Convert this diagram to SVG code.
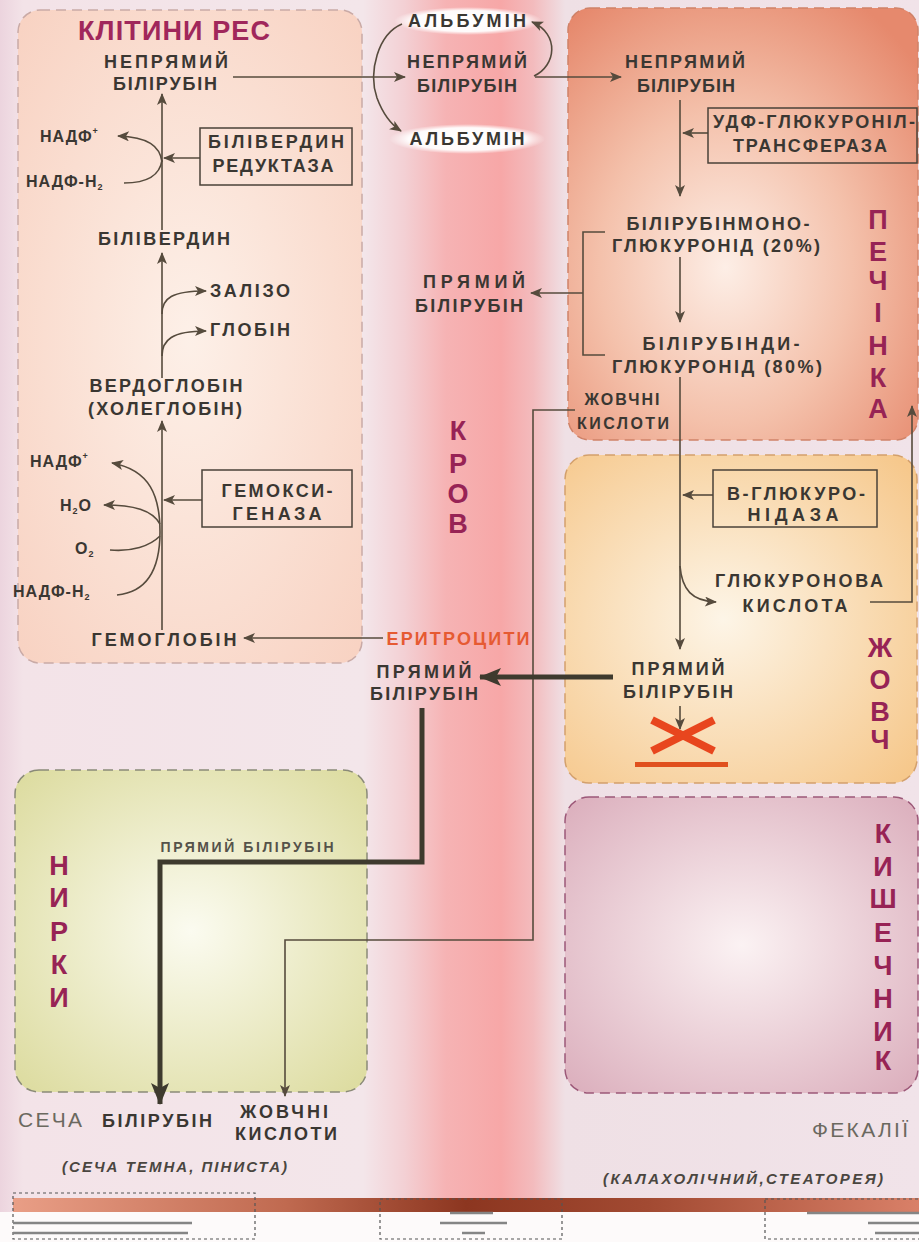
<svg xmlns="http://www.w3.org/2000/svg" width="919" height="1242" viewBox="0 0 919 1242">
<defs>
<style>
.m{font-family:"Liberation Sans",Arial,sans-serif;font-weight:bold;font-size:18px;fill:#3a3732;text-anchor:middle}
.s{font-family:"Liberation Sans",Arial,sans-serif;font-weight:bold;font-size:16px;fill:#3a3732;letter-spacing:1px}
.big{font-family:"Liberation Sans",Arial,sans-serif;font-weight:bold;font-size:27px;fill:#972355;text-anchor:middle}
.reg{font-family:"Liberation Sans",Arial,sans-serif;font-size:21px;fill:#6b695f}
.it{font-family:"Liberation Sans",Arial,sans-serif;font-weight:bold;font-style:italic;font-size:15px;fill:#4a4640}
.ln{fill:none;stroke:#564b3d;stroke-width:1.6}
.arr{marker-end:url(#ah)}
.thick{fill:none;stroke:#3e3a2e;stroke-width:5;marker-end:url(#ahT)}
.box{fill:none;stroke:#4a4238;stroke-width:1.5}
.dbox{fill:none;stroke:#555;stroke-width:1.2;stroke-dasharray:3 3}
.gl{stroke:#858585;stroke-width:2.5}
</style>
<marker id="ah" viewBox="0 0 12 10" refX="11" refY="5" markerWidth="13" markerHeight="10" orient="auto" markerUnits="userSpaceOnUse">
<path d="M0,0 L12,5 L0,10 L3,5 z" fill="#564b3d"/>
</marker>
<marker id="ahT" viewBox="0 0 22 18" refX="21" refY="9" markerWidth="22" markerHeight="18" orient="auto" markerUnits="userSpaceOnUse">
<path d="M0,0 L22,9 L0,18 L5,9 z" fill="#3e3a2e"/>
</marker>
<linearGradient id="bg" x1="0" y1="0" x2="919" y2="0" gradientUnits="userSpaceOnUse">
<stop offset="0" stop-color="#ecd4de"/>
<stop offset="0.025" stop-color="#f3e3e8"/>
<stop offset="0.395" stop-color="#f3e6ea"/>
<stop offset="0.44" stop-color="#f3d0d4"/>
<stop offset="0.485" stop-color="#f6b3b4"/>
<stop offset="0.545" stop-color="#f7a7a7"/>
<stop offset="0.58" stop-color="#f3bbbd"/>
<stop offset="0.615" stop-color="#efe0e5"/>
<stop offset="1" stop-color="#f1e3e9"/>
</linearGradient>
<linearGradient id="bar" x1="13" y1="0" x2="919" y2="0" gradientUnits="userSpaceOnUse">
<stop offset="0" stop-color="#e99e86"/>
<stop offset="0.3" stop-color="#c06a50"/>
<stop offset="0.5" stop-color="#8c3620"/>
<stop offset="0.7" stop-color="#a24a32"/>
<stop offset="1" stop-color="#d98068"/>
</linearGradient>
<radialGradient id="gRes" cx="0.5" cy="0.5" r="0.7">
<stop offset="0" stop-color="#fdf0e8"/>
<stop offset="1" stop-color="#f8d2c2"/>
</radialGradient>
<radialGradient id="gLiv" cx="0.45" cy="0.6" r="0.72">
<stop offset="0" stop-color="#fdeee6"/>
<stop offset="0.5" stop-color="#f4c1ab"/>
<stop offset="1" stop-color="#e6896d"/>
</radialGradient>
<radialGradient id="gBil" cx="0.45" cy="0.5" r="0.7">
<stop offset="0" stop-color="#fdf5e7"/>
<stop offset="1" stop-color="#f6c88c"/>
</radialGradient>
<radialGradient id="gInt" cx="0.5" cy="0.5" r="0.7">
<stop offset="0" stop-color="#fbf2f3"/>
<stop offset="1" stop-color="#dbaebc"/>
</radialGradient>
<radialGradient id="gKid" cx="0.5" cy="0.5" r="0.7">
<stop offset="0" stop-color="#fbfbf0"/>
<stop offset="1" stop-color="#dcdb9e"/>
</radialGradient>
<radialGradient id="gWh" cx="0.5" cy="0.5" r="0.5">
<stop offset="0" stop-color="#fff" stop-opacity="1"/>
<stop offset="0.75" stop-color="#fff" stop-opacity="0.95"/>
<stop offset="1" stop-color="#fff" stop-opacity="0"/>
</radialGradient>
</defs>

<rect x="0" y="0" width="919" height="1242" fill="url(#bg)"/>

<g id="panel-res"><rect x="18" y="10" width="344" height="653" rx="22" fill="url(#gRes)" stroke="#c9aaa6" stroke-width="1.5" stroke-dasharray="10 6"/></g>
<g id="panel-liver"><rect x="568" y="8" width="350" height="432" rx="22" fill="url(#gLiv)" stroke="#cf8268" stroke-width="1.5" stroke-dasharray="10 6"/></g>
<g id="panel-bile"><rect x="565" y="455" width="352" height="328" rx="24" fill="url(#gBil)" stroke="#d3a06c" stroke-width="1.5" stroke-dasharray="10 6"/></g>
<g id="panel-intestine"><rect x="565" y="797" width="353" height="296" rx="24" fill="url(#gInt)" stroke="#9c5878" stroke-width="1.5" stroke-dasharray="10 6"/></g>
<g id="panel-kidney"><rect x="15" y="770" width="352" height="322" rx="24" fill="url(#gKid)" stroke="#8a8a78" stroke-width="1.5" stroke-dasharray="10 6"/></g>

<g id="bottom-strip">
<rect x="0" y="1212" width="919" height="30" fill="#fdfafa"/>
<rect x="13" y="1198" width="906" height="14" fill="url(#bar)"/>
<rect class="dbox" x="13" y="1193" width="242" height="46"/>
<rect class="dbox" x="380" y="1199" width="182" height="40"/>
<rect class="dbox" x="765" y="1199" width="160" height="40"/>
<line class="gl" x1="13" y1="1223" x2="192" y2="1223"/>
<line class="gl" x1="13" y1="1233" x2="188" y2="1233"/>
<line class="gl" x1="450" y1="1213" x2="493" y2="1213"/>
<line class="gl" x1="440" y1="1223" x2="507" y2="1223"/>
<line class="gl" x1="462" y1="1233" x2="485" y2="1233"/>
<line class="gl" x1="807" y1="1213" x2="919" y2="1213"/>
<line class="gl" x1="868" y1="1223" x2="919" y2="1223"/>
<line class="gl" x1="875" y1="1233" x2="919" y2="1233"/>
</g>

<g id="albumin-bg">
<ellipse cx="468" cy="21" rx="74" ry="14" fill="url(#gWh)"/>
<ellipse cx="467" cy="139" rx="78" ry="15" fill="url(#gWh)"/>
</g>

<g id="connectors">
<path class="ln arr" d="M233 77 H405"/>
<path class="ln arr" d="M162 230 V94"/>
<path class="ln arr" d="M162 162 C160 146 148 137 118 136"/>
<path class="ln" d="M124 183 C148 183 160 175 162 160"/>
<path class="ln arr" d="M200 158 H164"/>
<path class="ln arr" d="M162 378 V253"/>
<path class="ln arr" d="M162 314 C162 298 172 291 206 291"/>
<path class="ln arr" d="M162 356 C162 340 172 331 206 331"/>
<path class="ln arr" d="M162 630 V421"/>
<path class="ln arr" d="M117 595 C148 592 160 568 160 532 C160 496 150 470 112 463"/>
<path class="ln arr" d="M160 524 C152 510 134 505 104 505"/>
<path class="ln" d="M110 550 C132 552 150 546 160 536"/>
<path class="ln arr" d="M202 500 H164"/>
<path class="ln arr" d="M383 638 H244"/>
<path class="ln arr" d="M402 24 C378 34 368 72 377 98 C383 114 390 124 401 131"/>
<path class="ln arr" d="M534 76 C556 66 560 34 532 22"/>
<path class="ln arr" d="M535 77 H621"/>
<path class="ln arr" d="M680 100 V196"/>
<path class="ln arr" d="M708 133 H683"/>
<path class="ln arr" d="M680 257 V322"/>
<path class="ln arr" d="M680 377 V649"/>
<path class="ln" d="M605 232 H583 V355 H605"/>
<path class="ln arr" d="M583 293 H531"/>
<path class="ln arr" d="M575 410 H533 V940 H285 V1096"/>
<path class="ln arr" d="M713 495 H683"/>
<path class="ln arr" d="M680 566 C682 590 692 601 716 602"/>
<path class="ln arr" d="M870 602 H912 V406"/>
<path class="ln arr" d="M680 706 V729"/>
<path class="thick" d="M613 677 H480"/>
<path class="thick" d="M422 708 V862 H160 V1104"/>
</g>

<g id="res-title"><text class="m" x="174" y="40" style="fill:#a0275b;font-size:27px" textLength="192" lengthAdjust="spacing">КЛІТИНИ РЕС</text></g>
<g id="res-indirect-bilirubin"><text class="m" x="166" y="68" textLength="124" lengthAdjust="spacing">НЕПРЯМИЙ</text><text class="m" x="165" y="90" textLength="104" lengthAdjust="spacing">БІЛІРУБІН</text></g>
<g id="nadp1"><text class="s" x="40" y="142">НАДФ<tspan dy="-8" font-size="9" letter-spacing="0">+</tspan></text></g>
<g id="nadph1"><text class="s" x="26" y="187">НАДФ-Н<tspan dy="3" font-size="9" letter-spacing="0">2</tspan></text></g>
<g id="biliverdin-reductase"><rect class="box" x="200" y="128" width="152" height="57"/><text class="m" x="276" y="148" textLength="136" lengthAdjust="spacing">БІЛІВЕРДИН</text><text class="m" x="273" y="172" textLength="121" lengthAdjust="spacing">РЕДУКТАЗА</text></g>
<g id="biliverdin"><text class="m" x="164" y="245" textLength="132" lengthAdjust="spacing">БІЛІВЕРДИН</text></g>
<g id="iron"><text class="m" x="250" y="297" textLength="80" lengthAdjust="spacing">ЗАЛІЗО</text></g>
<g id="globin"><text class="m" x="250" y="336" textLength="80" lengthAdjust="spacing">ГЛОБІН</text></g>
<g id="verdoglobin"><text class="m" x="166" y="392" textLength="153" lengthAdjust="spacing">ВЕРДОГЛОБІН</text><text class="m" x="165" y="415" textLength="154" lengthAdjust="spacing">(ХОЛЕГЛОБІН)</text></g>
<g id="nadp2"><text class="s" x="30" y="467">НАДФ<tspan dy="-8" font-size="9" letter-spacing="0">+</tspan></text></g>
<g id="h2o"><text class="s" x="60" y="511" letter-spacing="1">H<tspan dy="3" font-size="9">2</tspan><tspan dy="-3">O</tspan></text></g>
<g id="o2"><text class="s" x="75" y="554" letter-spacing="1">O<tspan dy="3" font-size="9">2</tspan></text></g>
<g id="nadph2"><text class="s" x="13" y="597">НАДФ-Н<tspan dy="3" font-size="9" letter-spacing="0">2</tspan></text></g>
<g id="hemoxygenase"><rect class="box" x="202" y="470" width="150" height="57"/><text class="m" x="277" y="497" textLength="111" lengthAdjust="spacing">ГЕМОКСИ-</text><text class="m" x="277" y="520" textLength="89" lengthAdjust="spacing">ГЕНАЗА</text></g>
<g id="hemoglobin"><text class="m" x="164" y="646" textLength="145" lengthAdjust="spacing">ГЕМОГЛОБІН</text></g>

<g id="albumin-top"><text class="m" x="467" y="27" textLength="118" lengthAdjust="spacing">АЛЬБУМІН</text></g>
<g id="blood-indirect-bilirubin"><text class="m" x="467" y="68" textLength="120" lengthAdjust="spacing">НЕПРЯМИЙ</text><text class="m" x="467" y="92" textLength="100" lengthAdjust="spacing">БІЛІРУБІН</text></g>
<g id="albumin-bottom"><text class="m" x="467" y="145" textLength="115" lengthAdjust="spacing">АЛЬБУМІН</text></g>
<g id="blood-direct-bilirubin"><text class="m" x="474" y="288" textLength="102" lengthAdjust="spacing">ПРЯМИЙ</text><text class="m" x="469" y="312" textLength="108" lengthAdjust="spacing">БІЛІРУБІН</text></g>
<g id="blood-label"><text class="big" x="458" y="440">К</text><text class="big" x="458" y="473">Р</text><text class="big" x="458" y="503">О</text><text class="big" x="458" y="533">В</text></g>
<g id="erythrocytes"><text class="m" x="458" y="645" style="fill:#e65a32" textLength="143" lengthAdjust="spacing">ЕРИТРОЦИТИ</text></g>
<g id="blood-direct-bilirubin-2"><text class="m" x="424" y="678" textLength="95" lengthAdjust="spacing">ПРЯМИЙ</text><text class="m" x="424" y="700" textLength="108" lengthAdjust="spacing">БІЛІРУБІН</text></g>

<g id="liver-indirect-bilirubin"><text class="m" x="685" y="68" textLength="120" lengthAdjust="spacing">НЕПРЯМИЙ</text><text class="m" x="686" y="92" textLength="98" lengthAdjust="spacing">БІЛІРУБІН</text></g>
<g id="udp-glucuronyltransferase"><rect class="box" x="708" y="108" width="209" height="55"/><text class="m" x="814" y="128" textLength="202" lengthAdjust="spacing">УДФ-ГЛЮКУРОНІЛ-</text><text class="m" x="810" y="152" textLength="154" lengthAdjust="spacing">ТРАНСФЕРАЗА</text></g>
<g id="monoglucuronide"><text class="m" x="718" y="230" textLength="183" lengthAdjust="spacing">БІЛІРУБІНМОНО-</text><text class="m" x="716" y="252" textLength="208" lengthAdjust="spacing">ГЛЮКУРОНІД (20%)</text></g>
<g id="diglucuronide"><text class="m" x="721" y="350" textLength="157" lengthAdjust="spacing">БІЛІРУБІНДИ-</text><text class="m" x="717" y="373" textLength="210" lengthAdjust="spacing">ГЛЮКУРОНІД (80%)</text></g>
<g id="liver-bile-acids"><text class="m" x="622" y="405" style="font-size:16px" textLength="75" lengthAdjust="spacing">ЖОВЧНІ</text><text class="m" x="623" y="429" style="font-size:16px" textLength="92" lengthAdjust="spacing">КИСЛОТИ</text></g>
<g id="liver-label"><text class="big" x="878" y="229">П</text><text class="big" x="878" y="261">Е</text><text class="big" x="878" y="290">Ч</text><text class="big" x="878" y="322">І</text><text class="big" x="878" y="355">Н</text><text class="big" x="878" y="387">К</text><text class="big" x="878" y="418">А</text></g>

<g id="beta-glucuronidase"><rect class="box" x="713" y="470" width="164" height="57"/><text class="m" x="796" y="500" textLength="138" lengthAdjust="spacing">В-ГЛЮКУРО-</text><text class="m" x="793" y="521" textLength="91" lengthAdjust="spacing">НІДАЗА</text></g>
<g id="glucuronic-acid"><text class="m" x="799" y="587" textLength="168" lengthAdjust="spacing">ГЛЮКУРОНОВА</text><text class="m" x="795" y="612" textLength="105" lengthAdjust="spacing">КИСЛОТА</text></g>
<g id="bile-direct-bilirubin"><text class="m" x="678" y="675" textLength="93" lengthAdjust="spacing">ПРЯМИЙ</text><text class="m" x="678" y="698" textLength="110" lengthAdjust="spacing">БІЛІРУБІН</text></g>
<g id="block-mark"><path d="M652 720 L714 751 M652 751 L714 720" stroke="#e8461e" stroke-width="8" fill="none"/><rect x="635" y="762" width="93" height="5" fill="#e0501e"/></g>
<g id="bile-label"><text class="big" x="880" y="657">Ж</text><text class="big" x="880" y="689">О</text><text class="big" x="880" y="721">В</text><text class="big" x="880" y="749">Ч</text></g>

<g id="kidney-direct-bilirubin"><text class="m" x="247" y="852" style="font-size:14px;fill:#55524a" textLength="173" lengthAdjust="spacing">ПРЯМИЙ БІЛІРУБІН</text></g>
<g id="kidney-label"><text class="big" x="59" y="875">Н</text><text class="big" x="59" y="907">И</text><text class="big" x="59" y="941">Р</text><text class="big" x="59" y="974">К</text><text class="big" x="59" y="1007">И</text></g>
<g id="urine"><text class="reg" x="18" y="1127" textLength="64" lengthAdjust="spacing">СЕЧА</text></g>
<g id="urine-bilirubin"><text class="m" x="157" y="1127" textLength="110" lengthAdjust="spacing">БІЛІРУБІН</text></g>
<g id="urine-bile-acids"><text class="m" x="284" y="1118" textLength="88" lengthAdjust="spacing">ЖОВЧНІ</text><text class="m" x="286" y="1140" textLength="102" lengthAdjust="spacing">КИСЛОТИ</text></g>
<g id="urine-note"><text class="it" x="62" y="1172" textLength="225" lengthAdjust="spacing">(СЕЧА ТЕМНА, ПІНИСТА)</text></g>

<g id="intestine-label"><text class="big" x="883" y="843">К</text><text class="big" x="883" y="876">И</text><text class="big" x="883" y="908">Ш</text><text class="big" x="883" y="942">Е</text><text class="big" x="883" y="975">Ч</text><text class="big" x="883" y="1008">Н</text><text class="big" x="883" y="1041">И</text><text class="big" x="883" y="1070">К</text></g>
<g id="feces"><text class="reg" x="812" y="1137" textLength="96" lengthAdjust="spacing">ФЕКАЛІЇ</text></g>
<g id="feces-note"><text class="it" x="603" y="1184" textLength="280" lengthAdjust="spacing">(КАЛАХОЛІЧНИЙ,СТЕАТОРЕЯ)</text></g>
</svg>
